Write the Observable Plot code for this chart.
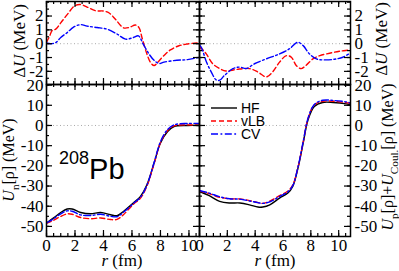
<!DOCTYPE html>
<html><head><meta charset="utf-8">
<script src="https://cdn.jsdelivr.net/npm/d3@7"></script>
<script src="https://cdn.jsdelivr.net/npm/@observablehq/plot@0.6"></script>
<style>
body{margin:0;background:#fff}
#wrap{position:relative;width:399px;height:271px;overflow:hidden;background:#fff}
#wrap svg{position:absolute;left:0;top:0}
#wrap svg:not(.anno) text{font-family:"Liberation Serif",serif !important}
</style></head><body><div id="wrap"></div>
<script>
// ---- data ----
const seriesNames = ["HF", "vLB", "CV"];
const xTicks = [0, 2, 4, 6, 8, 10];
const dUTicks = [-2, -1, 0, 1, 2];
const uTicks = [-50, -40, -30, -20, -10, 0, 10, 20];

// top-left: ΔU (neutron)
const dUnR_vLB = [0, 0.2, 0.4, 0.65, 1.0, 1.45, 2.0, 2.4, 2.85, 3.45, 4.0, 4.4, 4.85, 5.4, 5.8, 6.25, 6.5, 6.7, 7.05, 7.3, 7.55, 7.8, 8.25, 8.7, 9.3, 9.9, 10.75];
const dUn_vLB  = [0.1, 0.5, 0.95, 1.05, 1.5, 2.1, 2.75, 2.83, 2.65, 2.38, 2.36, 2.22, 1.75, 1.15, 1.17, 1.35, 1.15, 0.45, -0.75, -1.35, -1.58, -1.35, -0.85, -0.45, -0.15, -0.02, 0.07];
const dUnR_CV  = [0, 0.3, 0.65, 1.0, 1.45, 1.9, 2.4, 2.85, 3.55, 4.25, 4.95, 5.55, 6.1, 6.45, 6.8, 7.2, 7.55, 7.9, 8.25, 9.15, 9.9, 10.75];
const dUn_CV   = [0.05, 0.0, 0.08, 0.45, 0.8, 1.2, 1.38, 1.27, 1.17, 1.05, 0.7, 0.33, 0.45, 0.57, -0.05, -0.75, -1.2, -1.43, -1.33, -1.2, -1.15, -0.98];

// top-right: ΔU (proton)
const dUpR_vLB = [0, 0.25, 0.5, 0.95, 1.45, 1.9, 2.65, 3.6, 4.2, 4.8, 5.25, 5.75, 6.25, 6.6, 6.95, 7.3, 7.65, 8.15, 8.65, 9.35, 10.05, 10.8];
const dUp_vLB  = [-0.25, -0.45, -0.75, -1.45, -1.8, -1.97, -1.86, -1.8, -2.05, -2.4, -2.05, -1.33, -0.86, -0.98, -1.57, -1.8, -1.57, -1.1, -0.86, -0.69, -0.55, -0.45];
const dUpR_CV  = [0, 0.15, 0.5, 0.85, 1.2, 1.45, 1.8, 2.4, 2.9, 3.35, 3.95, 4.8, 5.75, 6.45, 7.05, 7.45, 7.9, 8.4, 9.1, 9.85, 10.3, 10.8];
const dUp_CV   = [-0.1, -0.3, -1.33, -2.05, -2.62, -2.64, -2.29, -1.81, -1.69, -1.8, -1.45, -1.1, -0.74, -0.38, 0.1, -0.14, -0.74, -1.1, -1.17, -1.1, -0.98, -0.7];

// bottom-left: U_n
const UnR    = [0, 0.5, 1.0, 1.45, 1.8, 2.4, 3.1, 3.8, 4.5, 4.95, 5.4, 6.1, 6.6, 7.05, 7.55, 8.0, 8.5, 8.95, 9.9, 10.75];
const Un_HF  = [-48.3, -45.8, -43.1, -41.4, -41.4, -43.1, -43.7, -43.1, -44.2, -44.7, -42.6, -38.4, -35.1, -29.4, -18.6, -8.7, -3.0, -0.5, 0, 0];
const Un_vLB = [-48.5, -47.0, -45.0, -43.8, -44.0, -45.6, -46.2, -45.8, -46.6, -46.5, -44.2, -39.0, -36.0, -30.0, -19.0, -8.5, -2.5, -0.2, 0.3, 0.1];
const Un_CV  = [-48.3, -46.2, -43.8, -42.3, -42.5, -44.3, -44.6, -44.0, -45.0, -45.2, -43.0, -38.6, -35.5, -29.6, -18.5, -8.0, -2.0, 0.3, 1.0, 1.0];

// bottom-right: U_p + U_Coul
const UpR    = [0, 0.7, 1.45, 2.15, 2.9, 3.6, 4.2, 4.55, 5.05, 5.75, 6.35, 6.7, 7.05, 7.45, 7.8, 8.25, 8.85, 9.6, 10.55, 10.8];
const Up_HF  = [-32.7, -34.8, -37.6, -38.4, -38.4, -39.3, -40.4, -40.4, -39.3, -36.0, -33.5, -30.2, -21.9, -8.7, 2.8, 9.4, 11.4, 11.4, 10.7, 10.3];
const Up_vLB = [-32.5, -33.8, -35.6, -36.3, -36.4, -37.2, -38.2, -38.6, -37.5, -34.7, -32.5, -29.5, -21.5, -8.2, 3.5, 10.2, 12.0, 12.0, 11.3, 11.0];
const Up_CV  = [-32.2, -33.5, -35.3, -36.3, -36.5, -37.4, -38.2, -38.6, -37.8, -35.2, -32.8, -29.8, -21.4, -8.0, 3.6, 10.4, 12.5, 12.4, 11.7, 11.2];

// ---- helpers ----
const W = 399, H = 271;
const styles = {
  HF:  {stroke: "#000", strokeWidth: 1.4},
  vLB: {stroke: "#ff0000", strokeWidth: 1.4, strokeDasharray: "5,3"},
  CV:  {stroke: "#0000ff", strokeWidth: 1.4, strokeDasharray: "7,2.5,1.8,2.5"}
};
const rows = (rs, vs) => rs.map((r, i) => ({r, v: vs[i]}));
const range = (a, b, s) => d3.range(a, b + s / 2, s);
const fmt = d => String(d);

function panel({fx0, fx1, fy0, fy1, xDom, yDom, xMinorStep, yMajor, yMinorStep, yAnchor, xLabels, series}) {
  const fw = fx1 - fx0, fh = fy1 - fy0;
  const xMaj = xTicks, xMin = range(0, 10.5, xMinorStep).filter(d => d <= xDom[1]);
  const yMin = range(yMajor[0] - yMinorStep * 2, yMajor[yMajor.length - 1] + yMinorStep * 2, yMinorStep).filter(d => d > yDom[0] && d < yDom[1]);
  const L = 6, l = 3;
  const marks = [
    Plot.ruleY([0], {stroke: "#aaa", strokeWidth: 1, strokeDasharray: "1,2.5"}),
    ...series.map(s => Plot.line(s.data, {x: "r", y: "v", curve: "catmull-rom", clip: true, ...styles[s.name]})),
    Plot.tickX(xMaj, {x: d => d, insetTop: fh - L, strokeWidth: 1.2}),
    Plot.tickX(xMin, {x: d => d, insetTop: fh - l, strokeWidth: 1.2}),
    Plot.tickX(xMaj, {x: d => d, insetBottom: fh - L, strokeWidth: 1.2}),
    Plot.tickX(xMin, {x: d => d, insetBottom: fh - l, strokeWidth: 1.2}),
    Plot.tickY(yMajor, {y: d => d, insetRight: fw - L, strokeWidth: 1.2}),
    Plot.tickY(yMin, {y: d => d, insetRight: fw - l, strokeWidth: 1.2}),
    Plot.tickY(yMajor, {y: d => d, insetLeft: fw - L, strokeWidth: 1.2}),
    Plot.tickY(yMin, {y: d => d, insetLeft: fw - l, strokeWidth: 1.2}),
    Plot.axisY(yMajor, {anchor: yAnchor, tickSize: 0, tickPadding: yAnchor === "left" ? 3 : 4, tickFormat: fmt,
      label: null, fontSize: 17, fill: "#000"}),
    Plot.frame({stroke: "#000", strokeWidth: 1.5})
  ];
  if (xLabels) marks.push(Plot.axisX(xTicks, {anchor: "bottom", tickSize: 0, tickPadding: 2, tickFormat: fmt,
      label: null, fontSize: 17, fill: "#000"}));
  const opts = {
    width: W, height: H,
    marginLeft: fx0, marginRight: W - fx1, marginTop: fy0, marginBottom: H - fy1,
    x: {domain: xDom, label: null},
    y: {domain: yDom, label: null},
    style: {background: "transparent", overflow: "visible", fontSize: "17px"},
    marks
  };
  if (!xLabels) opts.x.axis = null;
  return Plot.plot(opts);
}

const wrap = document.getElementById("wrap");
const xDomL = [0, 10.74], xDomR = [0, 10.85];
const dUDom = [-2.95, 3.05], uDom = [-55, 20.3];

wrap.append(panel({fx0: 46, fx1: 199, fy0: 1, fy1: 84, xDom: xDomL, yDom: dUDom, xMinorStep: 0.5,
  yMajor: dUTicks, yMinorStep: 0.5, yAnchor: "left", xLabels: false,
  series: [{name: "vLB", data: rows(dUnR_vLB, dUn_vLB)}, {name: "CV", data: rows(dUnR_CV, dUn_CV)}]}));
wrap.append(panel({fx0: 199, fx1: 350, fy0: 1, fy1: 84, xDom: xDomR, yDom: dUDom, xMinorStep: 0.5,
  yMajor: dUTicks, yMinorStep: 0.5, yAnchor: "right", xLabels: false,
  series: [{name: "vLB", data: rows(dUpR_vLB, dUp_vLB)}, {name: "CV", data: rows(dUpR_CV, dUp_CV)}]}));
wrap.append(panel({fx0: 46, fx1: 199, fy0: 84, fy1: 236, xDom: xDomL, yDom: uDom, xMinorStep: 0.5,
  yMajor: uTicks, yMinorStep: 5, yAnchor: "left", xLabels: true,
  series: [{name: "HF", data: rows(UnR, Un_HF)}, {name: "vLB", data: rows(UnR, Un_vLB)}, {name: "CV", data: rows(UnR, Un_CV)}]}));
wrap.append(panel({fx0: 199, fx1: 350, fy0: 84, fy1: 236, xDom: xDomR, yDom: uDom, xMinorStep: 0.5,
  yMajor: uTicks, yMinorStep: 5, yAnchor: "right", xLabels: true,
  series: [{name: "HF", data: rows(UpR, Up_HF)}, {name: "vLB", data: rows(UpR, Up_vLB)}, {name: "CV", data: rows(UpR, Up_CV)}]}));

// ---- annotations: axis titles, legend, label ----
const svg = d3.create("svg").attr("class", "anno").attr("width", W).attr("height", H)
  .style("font-family", "Liberation Serif").style("overflow", "visible");

function vlabel(x, y, parts, size) {
  const t = svg.append("text").attr("transform", `translate(${x},${y}) rotate(-90)`)
    .attr("text-anchor", "middle").attr("font-size", size).attr("fill", "#000");
  parts.forEach(p => {
    const ts = t.append("tspan").text(p.t);
    if (p.i) ts.attr("font-style", "italic");
    if (p.sub) ts.attr("font-size", size * 0.7).attr("dy", size * 0.3);
    if (p.up) ts.attr("dy", -size * 0.3);
  });
}
vlabel(25, 41, [{t: "Δ"}, {t: "U", i: true}, {t: " (MeV)"}], 17);
vlabel(387, 39, [{t: "Δ"}, {t: "U", i: true}, {t: " (MeV)"}], 17);
vlabel(14, 160, [{t: "U", i: true}, {t: "n", sub: true}, {t: "[ρ] (MeV)", up: true}], 16);
vlabel(393, 157, [{t: "U", i: true}, {t: "p", sub: true}, {t: "[ρ]+", up: true}, {t: "U", i: true}, {t: "Coul.", sub: true}, {t: "[ρ] (MeV)", up: true}], 16);

function hlabel(x, y, size) {
  const t = svg.append("text").attr("x", x).attr("y", y).attr("text-anchor", "middle")
    .attr("font-size", size).attr("fill", "#000");
  t.append("tspan").attr("font-style", "italic").text("r");
  t.append("tspan").text(" (fm)");
}
hlabel(122, 266, 17);
hlabel(275, 266, 17);

// nucleus label
const pb = svg.append("text").attr("x", 59).attr("y", 179).attr("font-family", "Liberation Sans").attr("fill", "#000");
pb.append("tspan").attr("font-size", 18).attr("dy", -15).text("208");
pb.append("tspan").attr("font-size", 29).attr("dy", 15).text("Pb");

// legend
const legY = [108, 121, 134];
seriesNames.forEach((name, i) => {
  const s = styles[name];
  svg.append("line").attr("x1", 211).attr("x2", 237).attr("y1", legY[i]).attr("y2", legY[i])
    .attr("stroke", s.stroke).attr("stroke-width", s.strokeWidth).attr("stroke-dasharray", s.strokeDasharray || null);
  svg.append("text").attr("x", 241).attr("y", legY[i] + 5).attr("font-family", "Liberation Sans")
    .attr("font-size", 14).attr("fill", "#000").text(name);
});
wrap.append(svg.node());
</script></body></html>
